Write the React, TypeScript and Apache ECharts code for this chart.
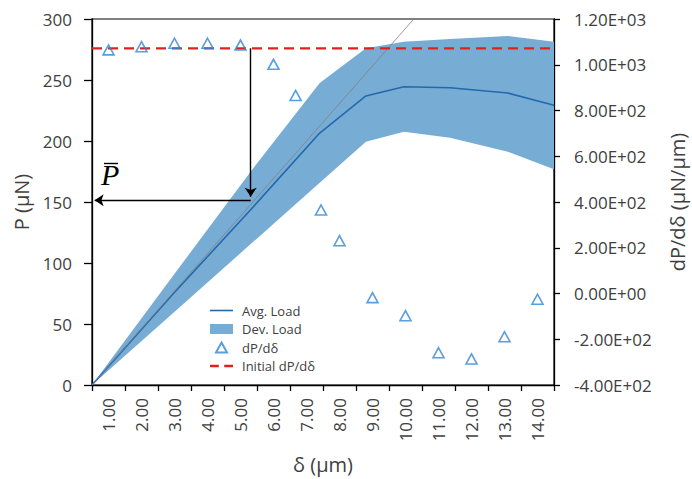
import React, { useEffect, useRef } from "react";
import * as echarts from "echarts";

// ---- data ----
const deltaCategories = ["1.00", "2.00", "3.00", "4.00", "5.00", "6.00", "7.00", "8.00", "9.00", "10.00", "11.00", "12.00", "13.00", "14.00"];

// load curves (x in category units, P in µN)
const loadX = [0.5, 2.9, 5.3, 7.4, 8.8, 9.95, 11.35, 13.1, 14.5];
const avgLoad = [0, 72.9, 143.5, 206.5, 236.9, 244.5, 243.7, 239.3, 229.3];
const upperLoad = [0, 87.5, 174.6, 247.5, 276, 281.4, 283.6, 286, 281.4];
const lowerLoad = [0, 57.6, 115.3, 165.7, 199.4, 207.6, 202.7, 191.2, 176.8];

// dP/dδ points (µN/µm)
const slopeX = [1, 2, 3, 4, 5, 6, 6.67, 7.44, 8, 9, 10, 11, 12, 13, 14];
const slopeVals = [1065, 1079, 1094, 1094, 1086, 1002, 866, 365, 231, -18, -97, -259, -286, -189, -25];

// initial slope (µN/µm) and tangent line
const initialSlopeX = [0.5, 14.5];
const initialSlope = [1072, 1072];
const tangentX = [0.5, 10.25];
const tangentP = [0, 300];

// P-bar construction arrows
const arrowVertical = [[5.31, 276], [5.31, 154.3]];
const arrowHorizontal = [[5.31, 151.4], [0.58, 151.4]];

const FONT = "Open Sans";
const TXT = "#404040";
const BAND = "#77acd4";
const LINE = "#2468ad";
const TRI = "#2f86d6";
const RED = "#e0201e";

function sci(v: number): string {
  const [m, e] = v.toExponential(2).split("e");
  const sign = e[0] === "-" ? "-" : "+";
  const digits = e.replace(/[+-]/, "").padStart(2, "0");
  return `${m}E${sign}${digits}`;
}

export default function App() {
  const ref = useRef<HTMLDivElement>(null);
  useEffect(() => {
    document.documentElement.style.margin = "0";
    document.documentElement.style.overflow = "hidden";
    document.body.style.margin = "0";
    document.body.style.overflow = "hidden";
    if (!ref.current) return;
    const chart = echarts.init(ref.current, undefined, { renderer: "svg", width: 692, height: 479 });
    const option: any = {
      animation: false,
      backgroundColor: "#fff",
      textStyle: { fontFamily: FONT },
      grid: {
        left: 92,
        right: 138,
        top: 19,
        bottom: 94,
        containLabel: false,
        outerBoundsMode: "none",
        show: true,
        borderColor: "#000",
        borderWidth: 1.2,
      },
      legend: {
        orient: "vertical",
        left: 210,
        top: 304,
        padding: 0,
        itemWidth: 23,
        itemHeight: 10,
        itemGap: 5.5,
        symbolKeepAspect: true,
        textStyle: { fontFamily: FONT, fontSize: 13, color: TXT, padding: [0, 0, 0, 4] },
        data: [
          { name: "Avg. Load", icon: "path://M0,0 L23,0 L23,1.6 L0,1.6 Z" },
          { name: "Dev. Load", icon: "rect", itemStyle: { color: BAND } },
          { name: "dP/dδ", icon: "path://M5.5,0 L11,10 L0,10 Z" },
          { name: "Initial dP/dδ", icon: "path://M0,0 L8,0 L8,2.2 L0,2.2 Z M13,0 L21,0 L21,2.2 L13,2.2 Z" },
        ],
      },
      xAxis: [
        {
          type: "category",
          data: deltaCategories,
          boundaryGap: true,
          position: "bottom",
          name: "δ (µm)",
          nameLocation: "middle",
          nameGap: 69,
          nameTextStyle: { fontFamily: FONT, fontSize: 20, color: TXT },
          axisLine: { show: true, lineStyle: { color: "#000", width: 1.3 } },
          axisTick: { show: true, length: 6, alignWithLabel: false, lineStyle: { color: "#000", width: 1.3 } },
          axisLabel: { rotate: 90, margin: 13, fontFamily: FONT, fontSize: 17, color: TXT },
          splitLine: { show: false },
        },
        {
          type: "value",
          min: 0.5,
          max: 14.5,
          show: false,
        },
      ],
      yAxis: [
        {
          type: "value",
          min: 0,
          max: 300,
          interval: 50,
          position: "left",
          name: "P (µN)",
          nameLocation: "middle",
          nameGap: 55,
          nameTextStyle: { fontFamily: FONT, fontSize: 20, color: TXT },
          axisLine: { show: true, lineStyle: { color: "#000", width: 1.3 } },
          axisTick: { show: true, length: 8, lineStyle: { color: "#000", width: 1.3 } },
          axisLabel: { margin: 20, fontFamily: FONT, fontSize: 17, color: TXT },
          splitLine: { show: false },
        },
        {
          type: "value",
          min: -400,
          max: 1200,
          interval: 200,
          position: "right",
          name: "dP/dδ (µN/µm)",
          nameLocation: "middle",
          nameGap: 113,
          nameRotate: 90,
          nameTextStyle: { fontFamily: FONT, fontSize: 20, color: TXT },
          axisLine: { show: true, lineStyle: { color: "#000", width: 1.3 } },
          axisTick: { show: true, length: 6, lineStyle: { color: "#000", width: 1.3 } },
          axisLabel: { margin: 20, fontFamily: FONT, fontSize: 17, color: TXT, formatter: (v: number) => sci(v) },
          splitLine: { show: false },
        },
      ],
      series: [
        {
          name: "Dev. Load",
          type: "custom",
          xAxisIndex: 1,
          yAxisIndex: 0,
          z: 1,
          itemStyle: { color: BAND },
          data: loadX.map((x, i) => [x, upperLoad[i], lowerLoad[i]]),
          encode: { x: 0, y: [1, 2] },
          renderItem: (params: any, api: any) => {
            if (params.dataIndex !== 0) return null;
            const pts: number[][] = [];
            for (let i = 0; i < loadX.length; i++) pts.push(api.coord([loadX[i], upperLoad[i]]));
            for (let i = loadX.length - 1; i >= 0; i--) pts.push(api.coord([loadX[i], lowerLoad[i]]));
            return { type: "polygon", shape: { points: pts }, style: { fill: BAND } };
          },
        },
        {
          name: "Avg. Load",
          type: "line",
          xAxisIndex: 1,
          yAxisIndex: 0,
          z: 3,
          symbol: "none",
          lineStyle: { color: LINE, width: 1.6 },
          itemStyle: { color: LINE },
          data: loadX.map((x, i) => [x, avgLoad[i]]),
        },
        {
          name: "tangent",
          type: "line",
          xAxisIndex: 1,
          yAxisIndex: 0,
          z: 4,
          symbol: "none",
          lineStyle: { color: "#808080", width: 0.8 },
          data: tangentX.map((x, i) => [x, tangentP[i]]),
        },
        {
          name: "Initial dP/dδ",
          type: "line",
          xAxisIndex: 1,
          yAxisIndex: 1,
          z: 4,
          symbol: "none",
          lineStyle: { color: RED, width: 2.2, type: [10, 6] },
          itemStyle: { color: RED },
          data: initialSlopeX.map((x, i) => [x, initialSlope[i]]),
        },
        {
          name: "dP/dδ",
          type: "scatter",
          xAxisIndex: 1,
          yAxisIndex: 1,
          z: 5,
          symbol: "triangle",
          symbolSize: [11, 10],
          itemStyle: { color: "rgba(255,255,255,0)", borderColor: TRI, borderWidth: 1.6 },
          data: slopeX.map((x, i) => [x, slopeVals[i]]),
        },
        {
          name: "arrows",
          type: "lines",
          coordinateSystem: "cartesian2d",
          xAxisIndex: 1,
          yAxisIndex: 0,
          z: 6,
          symbol: ["none", "arrow"],
          symbolSize: 9,
          lineStyle: { color: "#000", width: 1.4, opacity: 1 },
          data: [{ coords: arrowVertical }, { coords: arrowHorizontal }],
        },
      ],
      graphic: [
        {
          type: "text",
          left: 101,
          top: 159,
          style: { text: "P", font: "italic 30px 'Liberation Serif'", fill: "#000" },
        },
        {
          type: "line",
          shape: { x1: 104, y1: 163.5, x2: 118, y2: 163.5 },
          style: { stroke: "#000", lineWidth: 1.4 },
        },
      ],
    };
    chart.setOption(option);
    return () => chart.dispose();
  }, []);
  return <div ref={ref} style={{ width: 692, height: 479, background: "#fff" }} />;
}
